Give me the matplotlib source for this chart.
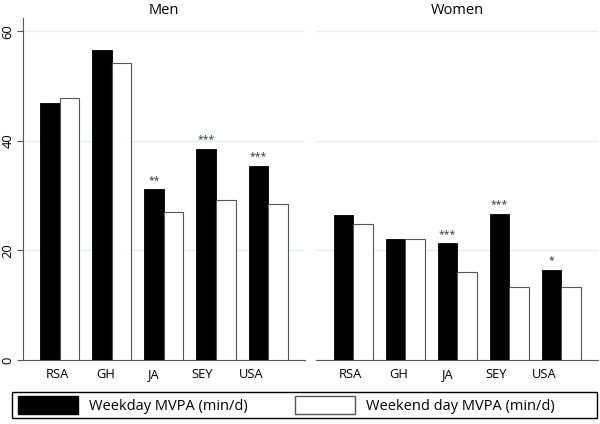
import numpy as np
import matplotlib.pyplot as plt
from matplotlib.patches import Patch, Rectangle

countries = ['RSA', 'GH', 'JA', 'SEY', 'USA']
men_weekday = [46.9, 56.6, 31.2, 38.6, 35.5]
men_weekend = [47.8, 54.2, 27.1, 29.2, 28.5]
women_weekday = [26.5, 22.1, 21.3, 26.7, 16.5]
women_weekend = [24.9, 22.1, 16.1, 13.4, 13.4]
men_stars = ['', '', '**', '***', '***']
women_stars = ['', '', '***', '***', '*']

plt.rcParams['font.family'] = ['Open Sans', 'DejaVu Sans']

fig = plt.figure(figsize=(6, 4.24), dpi=100)
ax1 = fig.add_axes([0.0383, 0.151, 0.47, 0.807])
ax2 = fig.add_axes([0.527, 0.151, 0.47, 0.807])

x = np.arange(len(countries))
w = 0.375

def panel(ax, wd, we, stars, title, show_y):
    ax.bar(x - w/2, wd, w, color='black', edgecolor='black', lw=0.6, zorder=3)
    ax.bar(x + w/2, we, w, color='white', edgecolor='#555555', lw=0.8, zorder=3)
    for xi, v, s in zip(x, wd, stars):
        if s:
            ax.text(xi - w/2, v + 0.6, s, ha='center', va='bottom', fontsize=7.5, color='#333333')
    ax.set_xlim(-0.71, 4.71)
    ax.set_ylim(0, 62.5)
    ax.set_yticks([0, 20, 40, 60])
    ax.yaxis.grid(True, color='#e6eff0', lw=1)
    ax.set_axisbelow(True)
    ax.set_xticks(x * 0.93 - 0.05)
    ax.set_xticklabels(countries, fontsize=9.3)
    ax.tick_params(axis='x', length=0, pad=6)
    ax.set_title(title, fontsize=10.5, pad=3)
    for sp in ['top', 'right']:
        ax.spines[sp].set_visible(False)
    ax.spines['bottom'].set_color('#555555')
    if show_y:
        ax.spines['left'].set_color('#555555')
        ax.set_yticklabels(['0', '20', '40', '60'], rotation=90, va='center', fontsize=9.3)
        ax.tick_params(axis='y', length=4, color='#555555', pad=2)
    else:
        ax.spines['left'].set_visible(False)
        ax.tick_params(axis='y', length=0, labelleft=False)

panel(ax1, men_weekday, men_weekend, men_stars, 'Men', True)
panel(ax2, women_weekday, women_weekend, women_stars, 'Women', False)

# legend frame spanning the width
fig.patches.append(Rectangle((0.02, 0.014), 0.975, 0.062, transform=fig.transFigure,
                             facecolor='white', edgecolor='black', lw=1.0))

handles = [Patch(facecolor='black', edgecolor='black', label='Weekday MVPA (min/d)'),
           Patch(facecolor='white', edgecolor='#555555', label='Weekend day MVPA (min/d)')]
leg = fig.legend(handles=handles, loc='center left', ncol=2,
                 bbox_to_anchor=(0.03, 0.045), fontsize=10.5,
                 handlelength=4.1, handleheight=1.5, frameon=False, borderaxespad=0,
                 handletextpad=0.8, borderpad=0, columnspacing=3.2)

fig.savefig('out.png', dpi=100)
